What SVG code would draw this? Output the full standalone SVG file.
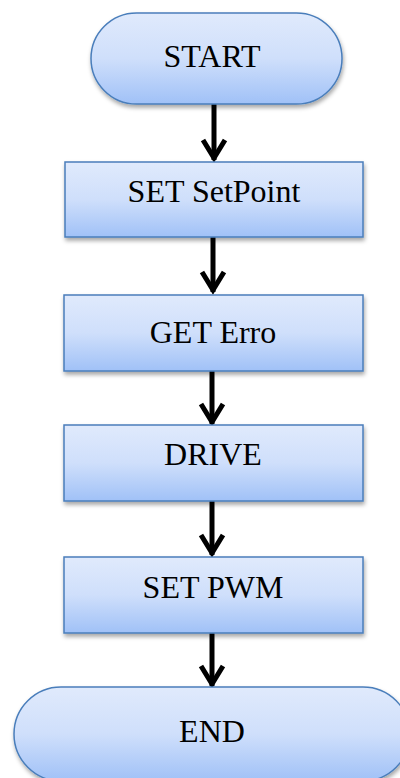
<svg xmlns="http://www.w3.org/2000/svg" width="400" height="778" viewBox="0 0 400 778">
<defs>
<linearGradient id="g" x1="0" y1="0" x2="0" y2="1">
<stop offset="0" stop-color="#e0eafc"/>
<stop offset="0.5" stop-color="#cfdffb"/>
<stop offset="1" stop-color="#a0c1f7"/>
</linearGradient>
<filter id="sh" x="-10%" y="-10%" width="125%" height="135%">
<feDropShadow dx="1" dy="3" stdDeviation="2" flood-color="#000" flood-opacity="0.35"/>
</filter>
<style>
.n{fill:url(#g);stroke:#4a7ebb;stroke-width:1.5;filter:url(#sh)}
.t{font-family:"Liberation Serif","Times New Roman",serif;font-size:32px;fill:#000;text-anchor:middle}
.c{stroke:#000;stroke-width:5;fill:none;stroke-linejoin:miter}
</style>
</defs>
<g id="connectors">
<line class="c" x1="214" y1="104" x2="214" y2="160"/>
<path class="c" d="M203 140 L214 158 L225 140"/>
<line class="c" x1="213" y1="237" x2="213" y2="292"/>
<path class="c" d="M202 272 L213 290 L224 272"/>
<line class="c" x1="212" y1="371" x2="212" y2="424"/>
<path class="c" d="M201 404 L212 422 L223 404"/>
<line class="c" x1="212" y1="501" x2="212" y2="555"/>
<path class="c" d="M201 535 L212 553 L223 535"/>
<line class="c" x1="212" y1="633" x2="212" y2="686"/>
<path class="c" d="M201 666 L212 684 L223 666"/>
</g>
<g id="start">
<rect class="n" x="91" y="13" width="251" height="91" rx="45.5" ry="45.5"/>
<text class="t" x="212" y="67">START</text>
</g>
<g id="setpoint">
<rect class="n" x="65" y="162" width="298" height="75"/>
<text class="t" x="214" y="202">SET SetPoint</text>
</g>
<g id="geterro">
<rect class="n" x="64" y="295" width="299" height="76"/>
<text class="t" x="213" y="343">GET Erro</text>
</g>
<g id="drive">
<rect class="n" x="64" y="425" width="299" height="76"/>
<text class="t" x="213" y="465">DRIVE</text>
</g>
<g id="setpwm">
<rect class="n" x="64" y="557" width="299" height="76"/>
<text class="t" x="213" y="598">SET PWM</text>
</g>
<g id="end">
<rect class="n" x="14" y="687" width="396" height="94" rx="47" ry="47"/>
<text class="t" x="212" y="742">END</text>
</g>
</svg>
